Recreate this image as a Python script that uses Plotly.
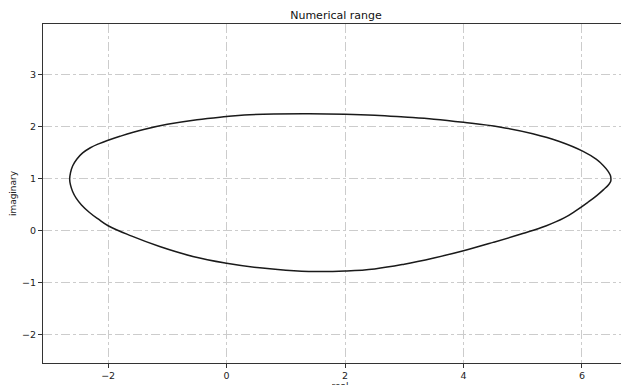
import plotly.graph_objects as go

# Boundary of the numerical range (counter-clockwise from the rightmost point)
real_part = [6.49, 6.48, 6.44, 6.36, 6.24, 6.02, 5.62, 5.17, 4.61, 4.00, 3.50, 3.00, 2.50, 2.00, 1.40, 0.80,
             0.30, 0.00, -0.50, -1.00, -1.40, -1.80, -2.00, -2.15, -2.30, -2.43, -2.53, -2.60, -2.635, -2.65,
             -2.635, -2.60, -2.54, -2.45, -2.32, -2.17, -2.00, -1.60, -1.13, -0.57, 0.00, 0.56, 1.00, 1.50,
             2.00, 2.50, 3.00, 3.50, 4.00, 4.50, 5.00, 5.40, 5.70, 5.90, 6.10, 6.25, 6.37, 6.45, 6.485, 6.49]
imag_part = [1.00, 1.07, 1.15, 1.26, 1.38, 1.53, 1.72, 1.87, 2.00, 2.09, 2.15, 2.19, 2.225, 2.245, 2.255, 2.25,
             2.23, 2.20, 2.14, 2.05, 1.95, 1.82, 1.745, 1.68, 1.60, 1.50, 1.38, 1.25, 1.12, 1.00,
             0.88, 0.76, 0.63, 0.50, 0.36, 0.23, 0.10, -0.10, -0.30, -0.49, -0.62, -0.71, -0.755, -0.78,
             -0.77, -0.73, -0.64, -0.52, -0.38, -0.22, -0.05, 0.10, 0.25, 0.39, 0.55, 0.68, 0.80, 0.89, 0.95, 1.00]

x_ticks = [-2, 0, 2, 4, 6]
y_ticks = [-2, -1, 0, 1, 2, 3]

# the page body adds an 8px offset; margins compensate so the plot area lands where the reference has it
OFF = 8
fig = go.Figure()
fig.add_trace(go.Scatter(
    x=real_part, y=imag_part, mode="lines",
    line=dict(color="#1a1a1a", width=1.5, shape="spline", smoothing=1.2),
    showlegend=False, hoverinfo="skip",
))

axis_common = dict(
    showgrid=True, gridcolor="#cccccc", gridwidth=1, griddash="dashdot",
    zeroline=False, showline=True, linecolor="#333333", linewidth=1,
    ticks="outside", ticklen=4, tickwidth=1, tickcolor="#333333",
    tickfont=dict(family="DejaVu Sans", size=9.5, color="#222222"),
    automargin=False,
)

W, H = 629, 385
fig.update_layout(
    width=W, height=H,
    margin=dict(l=43 - OFF, r=0, t=24 - OFF, b=H - (363 - OFF)),
    paper_bgcolor="white", plot_bgcolor="white",
    font=dict(family="DejaVu Sans", color="#222222"),
    title=dict(text="Numerical range", x=((43 + 629) / 2 - OFF) / W, xanchor="center",
               y=1 - (15 - OFF) / H, yanchor="middle",
               font=dict(family="DejaVu Sans", size=11, color="#111111")),
    xaxis=dict(range=[-3.1, 6.93], tickvals=x_ticks, mirror=True,
               title=dict(text="real", font=dict(size=9), standoff=2), **axis_common),
    yaxis=dict(range=[-2.54, 3.98], tickvals=y_ticks, mirror=False,
               title=dict(text="imaginary", font=dict(size=9), standoff=8), **axis_common),
)

fig.write_html("out.html")
